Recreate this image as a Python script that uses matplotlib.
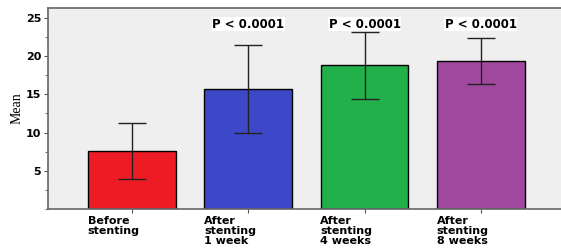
import numpy as np
import matplotlib.pyplot as plt
from matplotlib.ticker import MultipleLocator

groups = ["Before\nstenting", "After\nstenting\n1 week", "After\nstenting\n4 weeks", "After\nstenting\n8 weeks"]
means = [7.6, 15.7, 18.8, 19.4]
errors = [3.7, 5.7, 4.4, 3.0]
pvalues = ["", "P < 0.0001", "P < 0.0001", "P < 0.0001"]
colors = ["#ed1c24", "#3c48c8", "#22b04b", "#a0479e"]

fig = plt.figure(figsize=(5.61, 2.5), dpi=100)
ax = fig.add_axes([0.086, 0.164, 0.914, 0.804])
ax.set_facecolor("#efefef")

x_pos = np.arange(len(means))
ax.bar(x_pos, means, width=0.755, color=colors, edgecolor="black", linewidth=1, zorder=2)
ax.errorbar(x_pos, means, yerr=errors, fmt="none", ecolor="#222222",
            elinewidth=1, capsize=10, capthick=1, zorder=3)

# P values above bars
for x, m, e, p in zip(x_pos, means, errors, pvalues):
    if p:
        ax.text(x, 24.2, p, ha="center", va="center", fontsize=8.5,
                fontweight="bold", family="DejaVu Sans",
                bbox=dict(facecolor="white", edgecolor="none", pad=0.5))

ax.set_xlim(-0.72, 3.69)
ax.set_ylim(0, 26.3)
ax.set_yticks([5, 10, 15, 20, 25])
ax.yaxis.set_minor_locator(MultipleLocator(2.5))
ax.set_xticks(x_pos)
ax.set_xticklabels([])
ax.tick_params(axis="y", labelsize=8, length=3, color="#555555", pad=2)
ax.tick_params(axis="y", which="minor", length=2, color="#555555")
ax.tick_params(axis="x", length=3, color="#555555")
for lab in ax.get_yticklabels():
    lab.set_fontweight("bold")
    lab.set_family("DejaVu Sans")

# x labels, left aligned blocks
for x, g in zip(x_pos, groups):
    ax.text(x - 0.38, -0.035, g, transform=ax.get_xaxis_transform(),
            ha="left", va="top", fontsize=8, fontweight="bold",
            family="DejaVu Sans", linespacing=1.0)

ax.set_ylabel("Mean", family="Liberation Serif", fontsize=10, labelpad=2)

for s in ["left", "bottom", "top"]:
    ax.spines[s].set_color("#666666")
    ax.spines[s].set_linewidth(1.2)
ax.spines["right"].set_visible(False)

fig.savefig("out.png", dpi=100)
